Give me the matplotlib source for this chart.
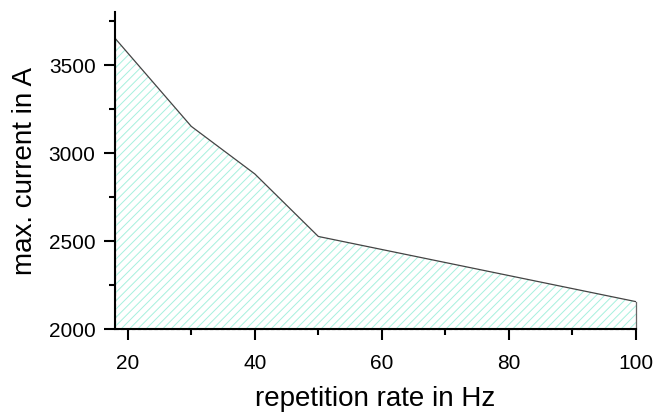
import numpy as np
import matplotlib.pyplot as plt
from matplotlib.ticker import MultipleLocator

rate = [18, 30, 40, 50, 100]
current = [3650, 3150, 2880, 2525, 2155]

plt.rcParams['font.family'] = ['Liberation Sans', 'DejaVu Sans']
plt.rcParams['hatch.linewidth'] = 0.7

fig = plt.figure(figsize=(6.55, 4.14), dpi=100)
ax = fig.add_axes([0.1756, 0.203, 0.7954, 0.766])

# hatched area under the curve
ax.fill_between(rate, current, 2000, facecolor='none', edgecolor='#a6f0de',
                linewidth=0, hatch='////')
ax.plot(rate, current, color='#444444', lw=0.9)
ax.plot([rate[-1], rate[-1]], [2000, current[-1]], color='#666666', lw=0.9, clip_on=False)
# dashed outline of the area on left/bottom
ax.plot([rate[0], rate[0]], [2000, current[0]], color='black', lw=0.8, ls=(0, (3, 2)), clip_on=False, zorder=3)
ax.plot([rate[0], rate[-1]], [2000, 2000], color='black', lw=0.8, ls=(0, (3, 2)), clip_on=False, zorder=3)

ax.set_xlim(18, 100)
ax.set_ylim(2000, 3800)
ax.xaxis.set_major_locator(MultipleLocator(20))
ax.xaxis.set_minor_locator(MultipleLocator(10))
ax.yaxis.set_major_locator(MultipleLocator(500))
ax.yaxis.set_minor_locator(MultipleLocator(250))

for s in ['top', 'right']:
    ax.spines[s].set_visible(False)
for s in ['left', 'bottom']:
    ax.spines[s].set_linewidth(1.5)

ax.tick_params(which='major', direction='out', length=8, width=1.5, labelsize=15)
ax.tick_params(axis='x', which='major', pad=9)
ax.tick_params(axis='y', which='major', pad=6)
ax.tick_params(which='minor', direction='out', length=4, width=1.5)

ax.set_xlabel('repetition rate in Hz', fontsize=20, labelpad=10)
ax.set_ylabel('max. current in A', fontsize=20, labelpad=8)

plt.savefig('out.png', dpi=100)
